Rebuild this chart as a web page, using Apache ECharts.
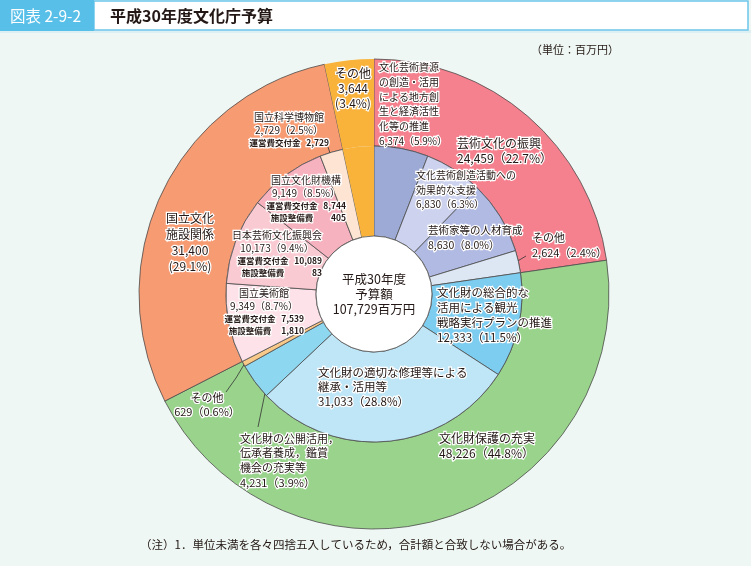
<!DOCTYPE html>
<html>
<head>
<meta charset="utf-8">
<title>平成30年度文化庁予算</title>
<script src="https://cdn.jsdelivr.net/npm/echarts@6/dist/echarts.min.js"></script>
<style>
  html, body { margin: 0; padding: 0; background: #EEF7F3; }
  #main { width: 751px; height: 566px; }
</style>
</head>
<body>
<div id="main"></div>
<script>
// 外側のリング（事項）
var groupNames = ['芸術文化の振興', '文化財保護の充実', '国立文化施設関係', 'その他'];
var groupValues = [24459, 48226, 31400, 3644];
var groupPcts = ['22.7', '44.8', '29.1', '3.4'];

// 内側のリング（内訳、12時から時計回り）
var itemNames = [
  '文化芸術資源\nの創造・活用\nによる地方創\n生と経済活性\n化等の推進',
  '文化芸術創造活動への\n効果的な支援',
  '芸術家等の人材育成',
  'その他',
  '文化財の総合的な\n活用による観光\n戦略実行プランの推進',
  '文化財の適切な修理等による\n継承・活用等',
  '文化財の公開活用，\n伝承者養成，鑑賞\n機会の充実等',
  'その他',
  '国立美術館',
  '日本芸術文化振興会',
  '国立文化財機構',
  '国立科学博物館',
  'その他'
];
var itemValues = [6374, 6830, 8630, 2624, 12333, 31033, 4231, 629, 9349, 10173, 9149, 2729, 3644];
var itemPcts = ['5.9', '6.3', '8.0', '2.4', '11.5', '28.8', '3.9', '0.6', '8.7', '9.4', '8.5', '2.5', '3.4'];

// 国立文化施設の内訳（国立美術館, 日本芸術文化振興会, 国立文化財機構, 国立科学博物館）
var grantValues = [7539, 10089, 8744, 2729];   // 運営費交付金
var facilityValues = [1810, 83, 405, null];    // 施設整備費

var totalBudget = 107729;

// 色
var groupColors = ['#F5808E', '#9AD38C', '#F79B73', '#F9B23A'];
var itemColors = ['#9DAAD6', '#CDD3EE', '#B0BAE2', '#DDE6F3',
                  '#7DCDF0', '#BFE6F7', '#8ED7F0', '#F9C98A',
                  '#FDE3E9', '#F9CAD2', '#F6B2BE', '#FDE4D3', '#F9B23A'];

var FONT = '"Noto Sans CJK JP", "Noto Sans", sans-serif';
var TXT = '#231815';

function fmt(n) {
  return n == null ? '' : n.toLocaleString('en-US');
}

// ラベルの位置
var innerLabelPos = [
  { x: 379, y: 60, align: 'left', size: 10, lh: 14.7, line: [[395, 146], [394, 152], [392, 160]] },
  { x: 416, y: 168, align: 'left', size: 10, lh: 14.5 },
  { x: 428, y: 223, align: 'left', size: 10.5, lh: 14.5 },
  { x: 532, y: 231, align: 'left', size: 11, lh: 14.5, line: [[526, 256], [516, 262], [505, 268]] },
  { x: 437, y: 285, align: 'left', size: 11.5, lh: 15 },
  { x: 318, y: 365, align: 'left', size: 11.5, lh: 14.5 },
  { x: 240, y: 431, align: 'left', size: 11, lh: 14.7, line: [[258, 427], [264, 398], [270, 368]] },
  { x: 207, y: 391, align: 'center', size: 11, lh: 14, line: [[226, 392], [236, 378], [245, 363]] },
  { x: 264, y: 286, align: 'center' },
  { x: 277, y: 228, align: 'center' },
  { x: 306, y: 173, align: 'center' },
  { x: 289, y: 110, align: 'center', line: [[328, 147], [331, 156], [335, 166]] },
  null
];
var outerLabelPos = [
  { x: 457, y: 136, align: 'left', lh: 15 },
  { x: 439, y: 431, align: 'left', lh: 15 },
  { x: 190, y: 210, align: 'center', lh: 16 },
  { x: 353, y: 66, align: 'center', lh: 15 }
];

var innerData = itemNames.map(function (name, i) {
  var pos = innerLabelPos[i];
  var item = {
    name: name,
    value: itemValues[i],
    itemStyle: { color: itemColors[i] },
    labelLine: { show: !!(pos && pos.line) }
  };
  if (!pos) {
    item.label = { show: false };
    item.itemStyle.borderWidth = 0;
  } else if (pos.size) {
    item.label = { fontSize: pos.size, lineHeight: pos.lh };
  }
  return item;
});

var outerData = groupNames.map(function (name, i) {
  var item = {
    name: name,
    value: groupValues[i],
    itemStyle: { color: groupColors[i] },
    label: { lineHeight: outerLabelPos[i].lh }
  };
  if (i === 3) item.itemStyle.borderWidth = 0;
  return item;
});

function innerFormatter(p) {
  var i = p.dataIndex;
  if (!innerLabelPos[i]) return '';
  var head = itemNames[i] + '\n' + fmt(itemValues[i]) + '（' + itemPcts[i] + '%）';
  if (i < 8) return head;
  var k = i - 8;
  var s = '{t|' + itemNames[i] + '}\n{t|' + fmt(itemValues[i]) + '（' + itemPcts[i] + '%）}\n' +
    '{k|運営費交付金}{n|' + fmt(grantValues[k]) + '}';
  if (facilityValues[k] != null) {
    s += '\n{k|施設整備費}{n|' + fmt(facilityValues[k]) + '}';
  }
  return s;
}

function outerFormatter(p) {
  var i = p.dataIndex;
  if (i === 2) return '国立文化\n施設関係\n' + fmt(groupValues[i]) + '\n(' + groupPcts[i] + '%)';
  if (i === 3) return groupNames[i] + '\n' + fmt(groupValues[i]) + '\n(' + groupPcts[i] + '%)';
  return groupNames[i] + '\n' + fmt(groupValues[i]) + '（' + groupPcts[i] + '%）';
}

function layoutFrom(list) {
  return function (params) {
    var p = list[params.dataIndex];
    if (!p) return {};
    var r = { x: p.x, y: p.y, align: p.align, verticalAlign: 'top' };
    if (p.line) r.labelLinePoints = p.line;
    return r;
  };
}

var labelBase = {
  position: 'outside',
  color: TXT,
  fontFamily: FONT,
  textBorderColor: '#fff',
  textBorderWidth: 2.5
};

var chart = echarts.init(document.getElementById('main'));
var option = {
  backgroundColor: '#EEF7F3',
  animation: false,
  graphic: [
    { type: 'rect', shape: { x: 0, y: 30, width: 751, height: 3 }, style: { fill: '#DCEFF3' } },
    { type: 'rect', shape: { x: 94, y: 1, width: 654, height: 29 }, style: { fill: '#fff', stroke: '#6CC6EC', lineWidth: 1.5 } },
    { type: 'rect', shape: { x: 0, y: 0, width: 94, height: 31 }, style: { fill: '#58BFE8' } },
    { type: 'text', x: 10, y: 16, style: { text: '図表 2-9-2', fill: '#fff', font: '15.5px ' + FONT, verticalAlign: 'middle' } },
    { type: 'text', x: 110, y: 16, style: { text: '平成30年度文化庁予算', fill: TXT, font: 'bold 16px ' + FONT, verticalAlign: 'middle' } },
    { type: 'text', x: 531, y: 50, style: { text: '（単位：百万円）', fill: TXT, font: '11px ' + FONT, verticalAlign: 'middle' } },
    { type: 'text', x: 140, y: 545, style: { text: '（注）1．単位未満を各々四捨五入しているため，合計額と合致しない場合がある。', fill: TXT, font: '11.5px ' + FONT, verticalAlign: 'middle' } }
  ],
  series: [
    {
      // 外側
      type: 'pie',
      z: 2,
      center: [374, 294],
      radius: [148, 235],
      startAngle: 90,
      clockwise: true,
      silent: true,
      avoidLabelOverlap: false,
      itemStyle: { borderColor: '#4d4d4d', borderWidth: 0.8 },
      label: Object.assign({}, labelBase, {
        fontSize: 12,
        lineHeight: 15,
        formatter: outerFormatter
      }),
      labelLine: { show: false },
      labelLayout: layoutFrom(outerLabelPos),
      data: outerData
    },
    {
      // 内側
      type: 'pie',
      z: 3,
      center: [374, 294],
      radius: [58, 148],
      startAngle: 90,
      clockwise: true,
      silent: true,
      avoidLabelOverlap: false,
      itemStyle: { borderColor: '#4d4d4d', borderWidth: 0.8 },
      label: Object.assign({}, labelBase, {
        fontSize: 10,
        lineHeight: 13,
        formatter: innerFormatter,
        rich: {
          t: { fontSize: 10, lineHeight: 13.5, color: TXT, fontFamily: FONT },
          k: { fontSize: 8.5, lineHeight: 12, fontWeight: 'bold', width: 52, color: TXT, fontFamily: FONT },
          n: { fontSize: 8.5, lineHeight: 12, fontWeight: 'bold', width: 28, align: 'right', color: TXT, fontFamily: FONT }
        }
      }),
      labelLine: { show: true, length: 8, length2: 8, lineStyle: { color: '#333', width: 0.8 } },
      labelLayout: layoutFrom(innerLabelPos),
      data: innerData
    },
    {
      // 中央（予算額）
      type: 'pie',
      z: 3,
      center: [374, 294],
      radius: [0, 58],
      silent: true,
      itemStyle: { color: '#fff', borderColor: '#4d4d4d', borderWidth: 0.8 },
      label: {
        position: 'center',
        color: TXT,
        fontFamily: FONT,
        fontSize: 12.5,
        lineHeight: 15,
        formatter: function () {
          return '平成30年度\n予算額\n' + fmt(totalBudget) + '百万円';
        }
      },
      labelLine: { show: false },
      data: [{ name: '予算額', value: totalBudget }]
    }
  ]
};
chart.setOption(option);
</script>
</body>
</html>
